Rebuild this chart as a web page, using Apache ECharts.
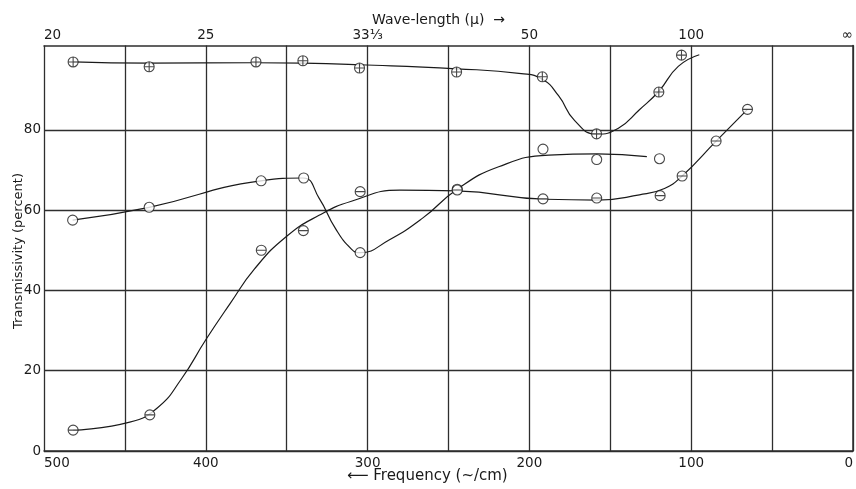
<!DOCTYPE html>
<html>
<head>
<meta charset="utf-8">
<script src="https://cdn.jsdelivr.net/npm/echarts@6/dist/echarts.min.js"></script>
<style>html,body{margin:0;padding:0;background:#fff}#c{width:856px;height:489px}</style>
</head>
<body>
<div id="c"></div>
<script>
// ---- Data (frequency in ~/cm, transmissivity in percent) ----
var freqTicks = [0, 100, 200, 300, 400, 500];
var wavelengthLabels = ['∞', '100', '50', '33⅓', '25', '20'];
var yTickValues = [0, 20, 40, 60, 80];

// ⊕ series (measured points)
var plusFreq = [482, 435, 369, 340, 305, 245, 192, 158.5, 120, 106];
var plusT    = [96.9, 95.7, 96.9, 97.2, 95.4, 94.4, 93.2, 79.0, 89.4, 98.6];
// ⊕ drawn curve
var plusCurveFreq = [482, 435, 370, 340, 305, 245, 205, 192, 182, 172, 158.5, 145, 132, 120, 108, 95];
var plusCurveT    = [96.9, 96.6, 96.7, 96.6, 96.2, 95.2, 94.0, 92.6, 88.5, 82.3, 78.9, 80.4, 85.0, 89.6, 95.8, 98.7];

// ○ series (measured points)
var openFreq = [482.3, 435, 365.8, 339.5, 304.6, 244.6, 191.6, 158.4, 119.6];
var openT    = [57.5, 60.7, 67.3, 68.0, 49.4, 65.2, 75.2, 72.6, 72.8];
// ○ drawn curve
var openCurveFreq = [482.3, 435, 366, 340, 330, 320, 310, 304.6, 287, 266, 244.6, 219, 188, 158, 127.4];
var openCurveT    = [57.5, 60.7, 67.3, 68.0, 63.0, 55.5, 50.3, 49.4, 52.5, 58.0, 65.2, 70.8, 73.7, 74.0, 73.3];

// ⊖ series (measured points)
var minusFreq = [482, 434.6, 365.7, 339.7, 304.6, 244.6, 191.6, 158.4, 119.2, 105.6, 84.6, 65.2];
var minusT    = [5.2, 9.0, 50.0, 54.9, 64.6, 65.0, 62.8, 63.0, 63.6, 68.5, 77.2, 85.1];
// ⊖ drawn curve
var minusCurveFreq = [482, 447, 430, 415, 400, 385, 370, 350, 330, 310, 280, 245, 190, 158, 132, 116.5, 105.6, 84.6, 65.2];
var minusCurveT    = [5.2, 7.2, 10.7, 18.0, 27.7, 36.7, 45.3, 53.5, 58.7, 62.2, 65.0, 64.8, 62.7, 62.5, 63.8, 65.4, 68.5, 77.2, 85.1];

function zip(a, b) { return a.map(function (v, i) { return [v, b[i]]; }); }

var INK = '#1a1a1a';
var GRIDC = '#2e2e2e';
var FONT = 'DejaVu Sans';
var symPlus  = 'path://M10,1A9,9 0 1,1 10,19A9,9 0 1,1 10,1Z M1,10L19,10 M10,1L10,19';
var symMinus = 'path://M10,1A9,9 0 1,1 10,19A9,9 0 1,1 10,1Z M1,10L19,10';

function curve(freq, t) {
  return { type: 'line', data: zip(freq, t), smooth: 0.5, showSymbol: false, symbol: 'none',
           lineStyle: { color: INK, width: 1.2 }, z: 3, silent: true, animation: false };
}
function pts(freq, t, sym) {
  return { type: 'scatter', data: zip(freq, t), symbol: sym, symbolSize: 10,
           itemStyle: { color: '#fff', borderColor: INK, borderWidth: 1.1 }, z: 5, animation: false };
}

var chart = echarts.init(document.getElementById('c'), null, { renderer: 'canvas' });
chart.setOption({
  backgroundColor: '#fff',
  animation: false,
  grid: { left: 44, right: 1, top: 45.5, bottom: 38, containLabel: false },
  xAxis: [
    { type: 'value', position: 'bottom', min: 0, max: 500, interval: 50, inverse: true,
      axisLine: { show: true, lineStyle: { color: GRIDC, width: 1.5 } },
      axisTick: { show: false },
      splitLine: { show: true, lineStyle: { color: GRIDC, width: 1.3 } },
      axisLabel: { color: INK, fontFamily: FONT, fontSize: 13.5, margin: 5,
                   alignMinLabel: 'right', alignMaxLabel: 'left',
                   formatter: function (v) { return freqTicks.indexOf(v) >= 0 ? String(v) : ''; } } },
    { type: 'value', position: 'top', min: 0, max: 500, interval: 100, inverse: true,
      axisLine: { show: true, onZero: false, lineStyle: { color: GRIDC, width: 1.5 } },
      axisTick: { show: false },
      splitLine: { show: false },
      axisLabel: { color: INK, fontFamily: FONT, fontSize: 13.5, margin: 3,
                   alignMinLabel: 'right', alignMaxLabel: 'left',
                   formatter: function (v) { var i = freqTicks.indexOf(v); return i >= 0 ? wavelengthLabels[i] : ''; } } }
  ],
  yAxis: {
    type: 'value', min: 0, max: 101, interval: 20,
    axisLine: { show: true, lineStyle: { color: GRIDC, width: 1.5 } },
    axisTick: { show: false, customValues: yTickValues },
    splitLine: { show: true, lineStyle: { color: GRIDC, width: 1.3 } },
    axisLabel: { color: INK, fontFamily: FONT, fontSize: 13.5, margin: 3, customValues: yTickValues }
  },
  graphic: [
    { type: 'text', x: 372, y: 20, style: { text: 'Wave-length (μ)  →', font: '14px "DejaVu Sans"', fill: INK, textAlign: 'left', textVerticalAlign: 'middle' } },
    { type: 'text', x: 347, y: 476, style: { text: '⟵ Frequency (~/cm)', font: '15px "DejaVu Sans"', fill: INK, textAlign: 'left', textVerticalAlign: 'middle' } },
    { type: 'text', x: 19, y: 251, rotation: Math.PI / 2, style: { text: 'Transmissivity (percent)', font: '13px "DejaVu Sans"', fill: INK, textAlign: 'center', textVerticalAlign: 'middle' } }
  ],
  series: [
    curve(plusCurveFreq, plusCurveT),
    curve(openCurveFreq, openCurveT),
    curve(minusCurveFreq, minusCurveT),
    pts(plusFreq, plusT, symPlus),
    pts(openFreq, openT, 'circle'),
    pts(minusFreq, minusT, symMinus)
  ]
});
</script>
</body>
</html>
